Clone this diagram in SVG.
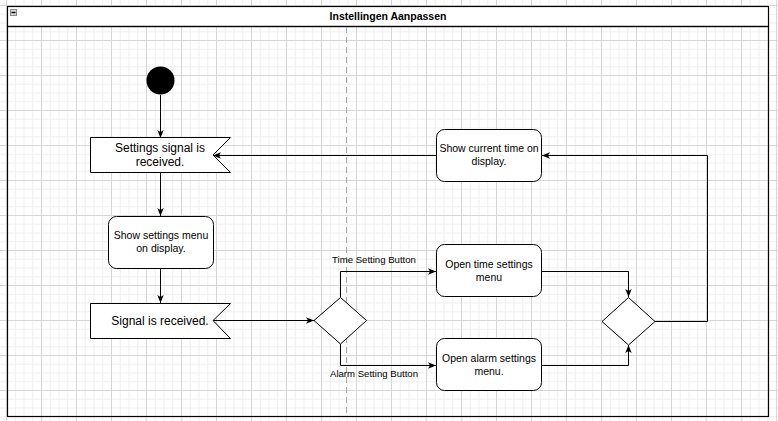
<svg xmlns="http://www.w3.org/2000/svg" width="778" height="421" viewBox="0 0 778 421">
<defs>
<pattern id="grid" patternUnits="userSpaceOnUse" x="6" y="5" width="35" height="35">
<path d="M9.25,0V35M18,0V35M26.75,0V35M0,9.25H35M0,18H35M0,26.75H35" stroke="#efefef" stroke-width="1" fill="none"/>
<path d="M0.5,0V35M0,0.5H35" stroke="#d6d6d6" stroke-width="1" fill="none"/>
</pattern>
<marker id="arr" viewBox="0 0 10 8" refX="10" refY="4" markerWidth="8" markerHeight="6.4" orient="auto" markerUnits="userSpaceOnUse">
<path d="M0,0 L10,4 L0,8 L2.5,4 z" fill="#000"/>
</marker>
</defs>
<style>
.node{fill:#fff;stroke:#000;stroke-width:1}
.t{font-family:"Liberation Sans",Arial,sans-serif;fill:#000;text-anchor:middle}
.t12{font-size:12px}
.t10{font-size:10.5px}
.lbl{font-size:9.6px}
.edge{fill:none;stroke:#000;stroke-width:1;marker-end:url(#arr)}
</style>
<rect width="778" height="421" fill="#fff"/>
<rect width="778" height="421" fill="url(#grid)"/>

<g id="container">
<rect x="7.5" y="6.5" width="761" height="20" fill="#fff" stroke="#000" stroke-width="1.2"/>
<rect x="7.5" y="26.5" width="761" height="390" fill="none" stroke="#000" stroke-width="1.2"/>
<rect x="10.5" y="9.5" width="6" height="6" fill="#ddd" stroke="#888" stroke-width="1"/>
<path d="M11.5,12.5H15.5" stroke="#000" stroke-width="1.5"/>
<text class="t" x="388" y="20" font-size="10.5" font-weight="bold">Instellingen Aanpassen</text>
<path d="M346.5,27V416" stroke="#aaa" stroke-width="1" stroke-dasharray="6,4"/>
</g>

<g id="connectors">
<path class="edge" d="M160.5,95 L160.5,138"/>
<path class="edge" d="M160.5,172 L160.5,216"/>
<path class="edge" d="M160.5,268 L160.5,303"/>
<path class="edge" d="M213,320.5 L314,320.5"/>
<path class="edge" d="M340.5,297 L340.5,271.5 L436,271.5"/>
<text class="t lbl" x="374" y="263">Time Setting Button</text>
<path class="edge" d="M340.5,344 L340.5,365.5 L436,365.5"/>
<text class="t lbl" x="374" y="377">Alarm Setting Button</text>
<path class="edge" d="M541,271.5 L628.5,271.5 L628.5,297"/>
<path class="edge" d="M541,365.5 L628.5,365.5 L628.5,345"/>
<path class="edge" d="M655,321.5 L707.5,321.5 L707.5,155.5 L542,155.5"/>
<path class="edge" d="M436,155.5 L213,155.5"/>
</g>

<g id="start">
<circle cx="160.5" cy="80.5" r="14" fill="#000"/>
</g>

<g id="settings-signal">
<path class="node" d="M90.5,137.5 H230.5 L213,155 L230.5,172.5 H90.5 Z"/>
<text class="t t12" x="160" y="151.5">Settings signal is</text>
<text class="t t12" x="160" y="166">received.</text>
</g>

<g id="show-settings-menu">
<rect class="node" x="108.5" y="216.5" width="105" height="52" rx="8"/>
<text class="t t10" x="161" y="239">Show settings menu</text>
<text class="t t10" x="161" y="252">on display.</text>
</g>

<g id="signal-received">
<path class="node" d="M90.5,303.5 H230.5 L213,320.5 L230.5,338.5 H90.5 Z"/>
<text class="t t12" x="160" y="325">Signal is received.</text>
</g>

<g id="decision-1">
<path class="node" d="M340.5,297.5 L366.5,320.5 L340.5,344 L314,320.5 Z"/>
</g>

<g id="open-time-settings">
<rect class="node" x="436.5" y="244.5" width="105" height="52" rx="8"/>
<text class="t t10" x="489" y="268">Open time settings</text>
<text class="t t10" x="489" y="281">menu</text>
</g>

<g id="open-alarm-settings">
<rect class="node" x="436.5" y="338.5" width="105" height="52" rx="8"/>
<text class="t t10" x="489" y="362">Open alarm settings</text>
<text class="t t10" x="489" y="375">menu.</text>
</g>

<g id="decision-2">
<path class="node" d="M628.5,297.5 L655,321.5 L628.5,345 L602,321.5 Z"/>
</g>

<g id="show-current-time">
<rect class="node" x="436.5" y="129.5" width="105" height="52" rx="8"/>
<text class="t t10" x="489" y="152">Show current time on</text>
<text class="t t10" x="489" y="165">display.</text>
</g>
</svg>
